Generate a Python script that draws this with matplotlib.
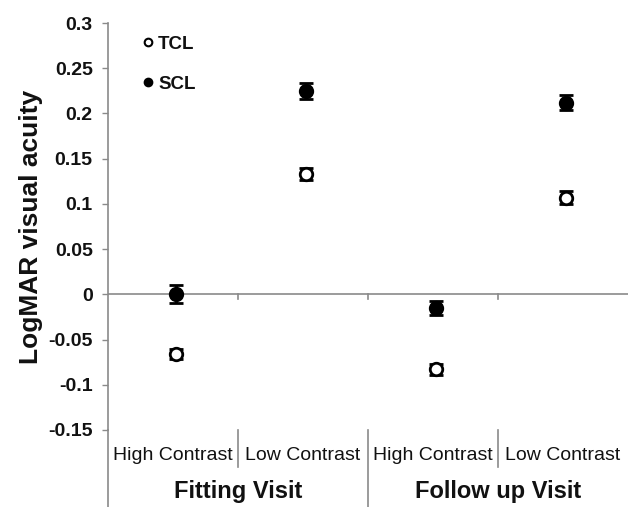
import numpy as np
import matplotlib
matplotlib.use("Agg")
import matplotlib.pyplot as plt
from matplotlib.lines import Line2D

plt.rcParams["font.family"] = ["Liberation Sans", "DejaVu Sans"]

categories = ["High Contrast", "Low Contrast", "High Contrast", "Low Contrast"]
groups = ["Fitting Visit", "Follow up Visit"]
tcl = [-0.066, 0.133, -0.083, 0.107]
tcl_err = [0.006, 0.007, 0.006, 0.007]
scl = [0.000, 0.225, -0.015, 0.212]
scl_err = [0.010, 0.009, 0.008, 0.008]
yticks = [-0.15, -0.1, -0.05, 0, 0.05, 0.1, 0.15, 0.2, 0.25, 0.3]
ytick_labels = ["-0.15", "-0.1", "-0.05", "0", "0.05", "0.1", "0.15", "0.2", "0.25", "0.3"]

axis_color = "#8a8a8a"
text_color = "#111111"

fig = plt.figure(figsize=(6.34, 5.07), dpi=100)
ax = fig.add_axes([108 / 634, 1 - 430 / 507, 520 / 634, 407 / 507])

x = np.arange(len(categories)) + 0.52
err_kw = dict(fmt="o", ms=9, mew=2, capsize=5, capthick=2, elinewidth=2,
              ecolor="black", mec="black", zorder=3)
ax.errorbar(x, tcl, yerr=tcl_err, mfc="white", **err_kw)
ax.errorbar(x, scl, yerr=scl_err, mfc="black", **err_kw)

ax.set_xlim(0, len(categories))
ax.set_ylim(-0.15, 0.3)
ax.set_yticks(yticks)
ax.set_yticklabels(ytick_labels, fontsize=14, fontweight="bold", color=text_color)
ax.set_xticks([])
ax.tick_params(axis="y", direction="out", length=4, width=1, color=axis_color, pad=7)
for side in ["top", "right", "bottom"]:
    ax.spines[side].set_visible(False)
ax.spines["left"].set_color(axis_color)
ax.spines["left"].set_linewidth(1.2)
ax.axhline(0, color=axis_color, lw=1.2, zorder=1)
for b in range(1, len(categories)):
    ax.plot([b, b], [0, -0.0055], color=axis_color, lw=1.2, zorder=1)

ax.set_ylabel("LogMAR visual acuity", fontsize=19, fontweight="bold", color=text_color, labelpad=4)

# category and group labels below the plot
trans = ax.get_xaxis_transform()
for i, c in enumerate(categories):
    ax.text(i + 0.5, -0.063, c, transform=trans, ha="center", va="center",
            fontsize=14, color=text_color, clip_on=False)
for g, name in enumerate(groups):
    ax.text(2 * g + 1, -0.15, name, transform=trans, ha="center", va="center",
            fontsize=17, fontweight="bold", color=text_color, clip_on=False)
for b in range(1, len(categories)):
    bottom = -0.2 if b % 2 == 0 else -0.09
    ax.plot([b, b], [0, bottom], transform=trans, color=axis_color, lw=1.2, clip_on=False)
ax.plot([0, 0], [0, -0.2], transform=trans, color=axis_color, lw=1.2, clip_on=False)

handles = [
    Line2D([], [], ls="none", marker="o", ms=5.5, mew=1.5, mfc="white", mec="black"),
    Line2D([], [], ls="none", marker="o", ms=5.5, mew=1.5, mfc="black", mec="black"),
]
leg = ax.legend(handles, ["TCL", "SCL"], loc="upper left", bbox_to_anchor=(0.035, 1.01),
                frameon=False, prop=dict(size=13.5, weight="bold"), handlelength=0.5,
                handletextpad=0.3, labelspacing=1.2)
for t in leg.get_texts():
    t.set_color(text_color)

fig.savefig("out.png", dpi=100)
